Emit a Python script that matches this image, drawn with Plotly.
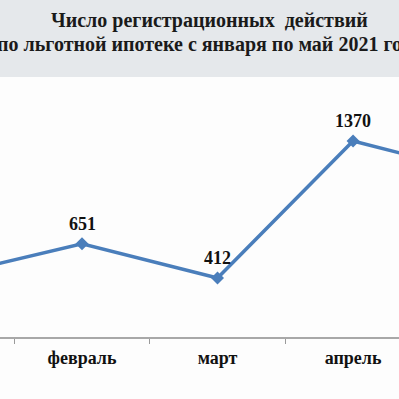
import plotly.graph_objects as go

months = ["январь", "февраль", "март", "апрель", "май"]
values = [426, 651, 412, 1370, 1128]
title_lines = ["Число регистрационных  действий", "по льготной ипотеке с января по май 2021 года"]

H, W = 399, 399
T, B = 80, 62
PH = H - T - B

fig = go.Figure()
fig.add_trace(go.Scatter(
    x=months, y=values, mode="lines+markers",
    line=dict(color="#4a7ebb", width=3.5),
    marker=dict(symbol="diamond", size=10, color="#4a7ebb"),
    cliponaxis=True,
))

for m, v in zip(months, values):
    fig.add_annotation(
        x=m, y=v, xref="x", yref="y", text=str(v), showarrow=False,
        yanchor="middle", xanchor="center", yshift=20,
        font=dict(family="Liberation Serif", size=18, color="#111111", weight="bold"),
    )

fig.update_layout(
    width=W, height=H,
    margin=dict(l=0, r=0, t=T, b=B),
    paper_bgcolor="#fdfdfd", plot_bgcolor="#fdfdfd",
    showlegend=False,
    xaxis=dict(
        type="category", range=[0.395, 3.339], tickson="boundaries",
        ticks="outside", ticklen=5, tickcolor="#9a9a9a",
        showline=True, linecolor="#a8a8a8", linewidth=1.5,
        showgrid=False, zeroline=False,
        tickfont=dict(family="Liberation Serif", size=18, color="#111111", weight="bold"),
        ticklabelstandoff=4,
    ),
    yaxis=dict(range=[0, 1796], visible=False, showgrid=False, zeroline=False),
)

fig.add_shape(type="rect", xref="paper", yref="paper",
              x0=-0.01, x1=1.01, y0=1.0 + (T - 77) / PH, y1=1.0 + (T + 2) / PH,
              fillcolor="#e5e8eb", line=dict(width=0), layer="below")

for i, t in enumerate(title_lines):
    fig.add_annotation(
        text=t, xref="paper", yref="paper",
        x=209 / W, y=1.0 + (T - (21 + 23 * i)) / PH,
        xanchor="center", yanchor="middle", showarrow=False,
        font=dict(family="Liberation Serif", size=20, color="#1a1a1a", weight="bold"),
    )

fig.write_html("out.html", config={"displayModeBar": False},
               post_script="document.body.style.margin='0';document.body.style.overflow='hidden';")
